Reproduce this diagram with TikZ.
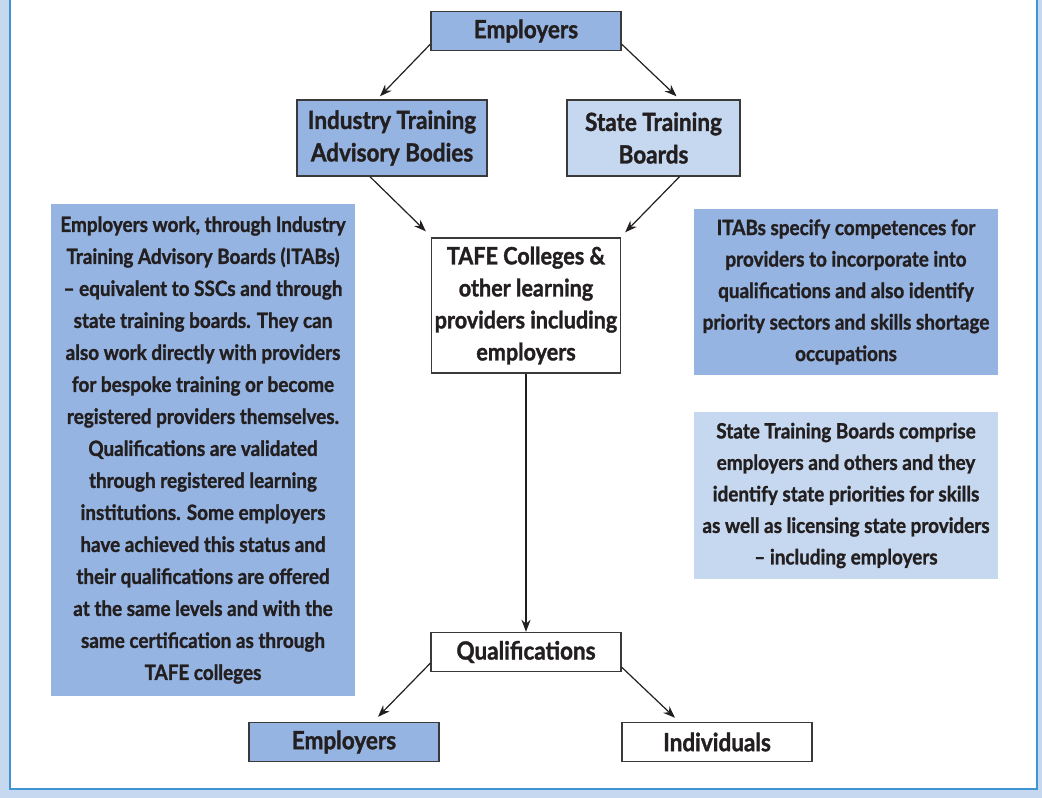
\documentclass[tikz,border=0pt]{standalone}
\usepackage{fontspec}
\setmainfont{Lato}[FakeStretch=0.9, BoldFeatures={FakeBold=1.3}]
\usetikzlibrary{arrows.meta,positioning}

\definecolor{midblue}{HTML}{95B4E1}
\definecolor{paleblue}{HTML}{C6D8F0}
\definecolor{frameblue}{HTML}{3D95D5}
\definecolor{boxline}{HTML}{3A3A3A}
\definecolor{ink}{HTML}{231F20}

\begin{document}
\begin{tikzpicture}[%
    >={Stealth[length=12pt,width=9pt]},
    x=1pt, y=-1pt,
    on grid,
    every node/.style={font=\fontsize{25}{32.5}\selectfont\bfseries,
                       text=ink, align=center},
    box/.style={draw=boxline, line width=1.4pt, minimum width=190pt,
                minimum height=39pt, inner sep=0pt},
    note/.style={minimum width=304pt, inner sep=0pt,
                 font=\fontsize{21}{31.5}\selectfont\bfseries},
    link/.style={->, line width=1.2pt, draw=ink}
    ]
    \useasboundingbox (0,0) rectangle (1042,798);
    \fill[paleblue] (0,0) rectangle (1042,798);
    \fill[white] (10,0) rectangle (1037,789);
    \draw[frameblue, line width=2pt] (10,0) -- (10,789) -- (1037,789) -- (1037,0);

    \node[box, fill=midblue] (emptop) at (526,31) {Employers};
    \node[box, fill=midblue, minimum height=76pt] (itab)
        [below left=107pt and 134pt of emptop] {Industry Training\\Advisory Bodies};
    \node[box, fill=paleblue, minimum width=173pt, minimum height=76pt] (stb)
        [below right=107pt and 127.5pt of emptop] {State Training\\Boards};
    \node[box, fill=white, minimum width=189pt, minimum height=135pt,
          font=\fontsize{24}{32}\selectfont\bfseries] (tafe)
        [below=274.5pt of emptop] {TAFE Colleges \&\\other learning\\providers including\\employers};
    \node[box, fill=white] (qual) [below=346.5pt of tafe] {Qualifications};
    \node[box, fill=midblue] (empbot) [below left=90pt and 182pt of qual] {Employers};
    \node[box, fill=white] (indiv) [below right=90pt and 191pt of qual] {Individuals};

    \node[note, fill=midblue, minimum height=492pt, font=\fontsize{21}{32}\selectfont\bfseries]
        (leftnote) at (203,450) {Employers work, through Industry\\
        Training Advisory Boards (ITABs)\\
        -- equivalent to SSCs and through\\
        state training boards. They can\\
        also work directly with providers\\
        for bespoke training or become\\
        registered providers themselves.\\
        Qualifications are validated\\
        through registered learning\\
        institutions. Some employers\\
        have achieved this status and\\
        their qualifications are offered\\
        at the same levels and with the\\
        same certification as through\\
        TAFE colleges};
    \node[note, fill=midblue, minimum height=166pt] (itabnote) at (846,292)
        {ITABs specify competences for\\
        providers to incorporate into\\
        qualifications and also identify\\
        priority sectors and skills shortage\\
        occupations};
    \node[note, fill=paleblue, minimum height=167pt] (stbnote) at (846,495.5)
        {State Training Boards comprise\\
        employers and others and they\\
        identify state priorities for skills\\
        as well as licensing state providers\\
        -- including employers};

    \draw[link] ([yshift=7pt]emptop.south west) -- ([xshift=-12pt,yshift=3pt]itab.north);
    \draw[link] ([yshift=7pt]emptop.south east) -- ([xshift=23pt,yshift=3pt]stb.north);
    \draw[link] ([xshift=-22pt]itab.south) -- ([xshift=-5pt,yshift=6pt]tafe.north west);
    \draw[link] ([xshift=26pt]stb.south) -- ([xshift=4pt,yshift=5pt]tafe.north east);
    \draw[link] (tafe.south) -- (qual.north);
    \draw[link] ([yshift=9pt]qual.south west) -- ([xshift=34pt,yshift=5pt]empbot.north);
    \draw[link] ([yshift=5pt]qual.south east) -- ([xshift=-42pt,yshift=4pt]indiv.north);
\end{tikzpicture}
\end{document}
